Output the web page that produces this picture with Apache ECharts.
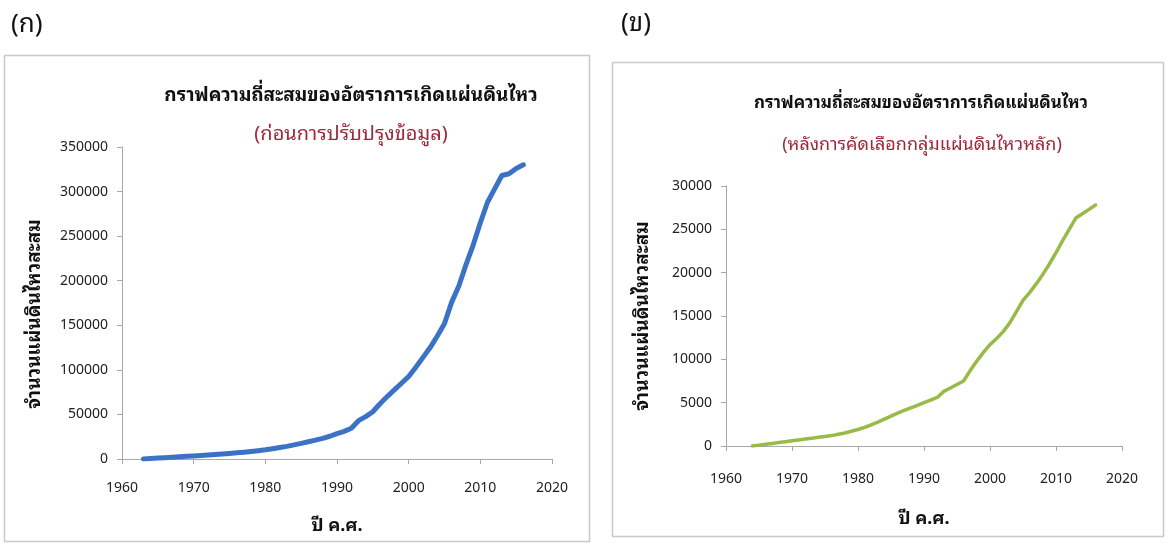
<!DOCTYPE html>
<html>
<head>
<meta charset="utf-8">
<script src="https://cdn.jsdelivr.net/npm/echarts@6/dist/echarts.min.js"></script>
<style>
  html, body { margin: 0; padding: 0; background: #ffffff; }
  #chart { width: 1168px; height: 544px; }
</style>
</head>
<body>
<div id="chart"></div>
<script>
// Cumulative earthquake counts per year, before data cleaning (ก)
const yearsA = [1963,1964,1965,1966,1967,1968,1969,1970,1971,1972,1973,1974,1975,1976,1977,1978,1979,
  1980,1981,1982,1983,1984,1985,1986,1987,1988,1989,1990,1991,1992,1993,1994,1995,1996,1997,1998,1999,
  2000,2001,2002,2003,2004,2005,2006,2007,2008,2009,2010,2011,2012,2013,2014,2015,2016];
const countsA = [0,500,1000,1500,2000,2500,3000,3500,4000,4500,5000,5600,6200,6900,7600,8400,9300,
  10300,11500,12800,14200,15800,17500,19300,21200,23200,25500,28500,31000,34500,43000,47500,53000,62000,70000,77500,85000,
  92500,103000,114000,125000,138000,152000,176000,194000,218000,240000,265000,288000,303000,318000,320000,326000,330000];

// Cumulative counts after declustering / main-shock selection (ข)
const yearsB = [1964,1965,1966,1967,1968,1969,1970,1971,1972,1973,1974,1975,1976,1977,1978,1979,
  1980,1981,1982,1983,1984,1985,1986,1987,1988,1989,1990,1991,1992,1993,1994,1995,1996,1997,1998,1999,
  2000,2001,2002,2003,2004,2005,2006,2007,2008,2009,2010,2011,2012,2013,2014,2015,2016];
const countsB = [0,100,200,300,400,500,600,700,800,900,1000,1100,1200,1350,1500,1700,
  1900,2150,2450,2750,3100,3450,3800,4100,4400,4700,5000,5300,5600,6300,6700,7100,7500,8700,9800,10800,
  11700,12400,13200,14200,15500,16800,17700,18700,19800,21000,22300,23700,25000,26300,26800,27300,27800];

const xTicks = { min: 1960, max: 2020, interval: 10 };
const yTicksA = { min: 0, max: 350000, interval: 50000 };
const yTicksB = { min: 0, max: 30000, interval: 5000 };

const mainTitle = 'กราฟความถี่สะสมของอัตราการเกิดแผ่นดินไหว';
const subTitleA = '(ก่อนการปรับปรุงข้อมูล)';
const subTitleB = '(หลังการคัดเลือกกลุ่มแผ่นดินไหวหลัก)';
const yName = 'จำนวนแผ่นดินไหวสะสม';
const xName = 'ปี ค.ศ.';

const thaiFont = "'Noto Sans Thai Looped', 'Noto Sans Thai', Tahoma, Loma, Garuda, 'Noto Sans', sans-serif";
const numFont = "'Noto Sans', 'Open Sans', sans-serif";

const pairs = (xs, ys) => xs.map((x, i) => [x, ys[i]]);
const plain = v => String(v);

function xAxis(gridIndex, nameGap, labelMargin) {
  return {
    type: 'value', gridIndex, min: xTicks.min, max: xTicks.max, interval: xTicks.interval,
    name: xName, nameLocation: 'middle', nameGap,
    nameTextStyle: { fontFamily: thaiFont, fontSize: 18, color: '#111', fontWeight: 'bold' },
    axisLine: { show: true, lineStyle: { color: '#a8a8a8', width: 1 } },
    axisTick: { show: true, length: 5, lineStyle: { color: '#a8a8a8' } },
    axisLabel: { fontFamily: numFont, fontSize: 14, color: '#222', margin: labelMargin, formatter: plain },
    splitLine: { show: false }
  };
}
function yAxis(gridIndex, t, nameGap, namePadding) {
  return {
    type: 'value', gridIndex, min: t.min, max: t.max, interval: t.interval,
    name: yName, nameLocation: 'middle', nameGap,
    nameTextStyle: { fontFamily: thaiFont, fontSize: 19, color: '#111', fontWeight: 'bold', padding: namePadding },
    axisLine: { show: true, lineStyle: { color: '#a8a8a8', width: 1 } },
    axisTick: { show: true, length: 5, lineStyle: { color: '#a8a8a8' } },
    axisLabel: { fontFamily: numFont, fontSize: 14, color: '#222', margin: 14, formatter: plain },
    splitLine: { show: false }
  };
}

const chart = echarts.init(document.getElementById('chart'), null, { renderer: 'canvas' });
chart.setOption({
  animation: false,
  backgroundColor: '#ffffff',
  graphic: [
    { type: 'rect', shape: { x: 4.5, y: 55.5, width: 585, height: 486 }, style: { fill: '#fff', stroke: '#c8c8c8', lineWidth: 1.5 }, z: -10 },
    { type: 'rect', shape: { x: 612.5, y: 62.5, width: 551, height: 474 }, style: { fill: '#fff', stroke: '#c8c8c8', lineWidth: 1.5 }, z: -10 },
    { type: 'text', left: 11, top: 12, style: { text: '(ก)', font: "26px " + thaiFont, fill: '#111' } },
    { type: 'text', left: 621, top: 11, style: { text: '(ข)', font: "26px " + thaiFont, fill: '#111' } }
  ],
  title: [
    { text: mainTitle, left: 346, top: 81, textAlign: 'center',
      textStyle: { fontFamily: thaiFont, fontSize: 19, fontWeight: 'bold', color: '#111' } },
    { text: subTitleA, left: 346, top: 119, textAlign: 'center',
      textStyle: { fontFamily: thaiFont, fontSize: 20, fontWeight: 'normal', color: '#a0283c' } },
    { text: mainTitle, left: 916, top: 90, textAlign: 'center',
      textStyle: { fontFamily: thaiFont, fontSize: 17, fontWeight: 'bold', color: '#111' } },
    { text: subTitleB, left: 917, top: 131, textAlign: 'center',
      textStyle: { fontFamily: thaiFont, fontSize: 18, fontWeight: 'normal', color: '#a0283c' } }
  ],
  grid: [
    { left: 122, top: 147, width: 430, height: 312 },
    { left: 726, top: 186, width: 396, height: 260 }
  ],
  xAxis: [xAxis(0, 58, 22), xAxis(1, 64, 26)],
  yAxis: [yAxis(0, yTicksA, 78, [0, 22, 0, 0]), yAxis(1, yTicksB, 74, [0, 0, 0, 0])],
  series: [
    { type: 'line', xAxisIndex: 0, yAxisIndex: 0, data: pairs(yearsA, countsA),
      showSymbol: false, lineStyle: { color: '#3b72c6', width: 5, cap: 'round', join: 'round' } },
    { type: 'line', xAxisIndex: 1, yAxisIndex: 1, data: pairs(yearsB, countsB),
      showSymbol: false, lineStyle: { color: '#9aba48', width: 3.5, cap: 'round', join: 'round' } }
  ]
});
</script>
</body>
</html>
